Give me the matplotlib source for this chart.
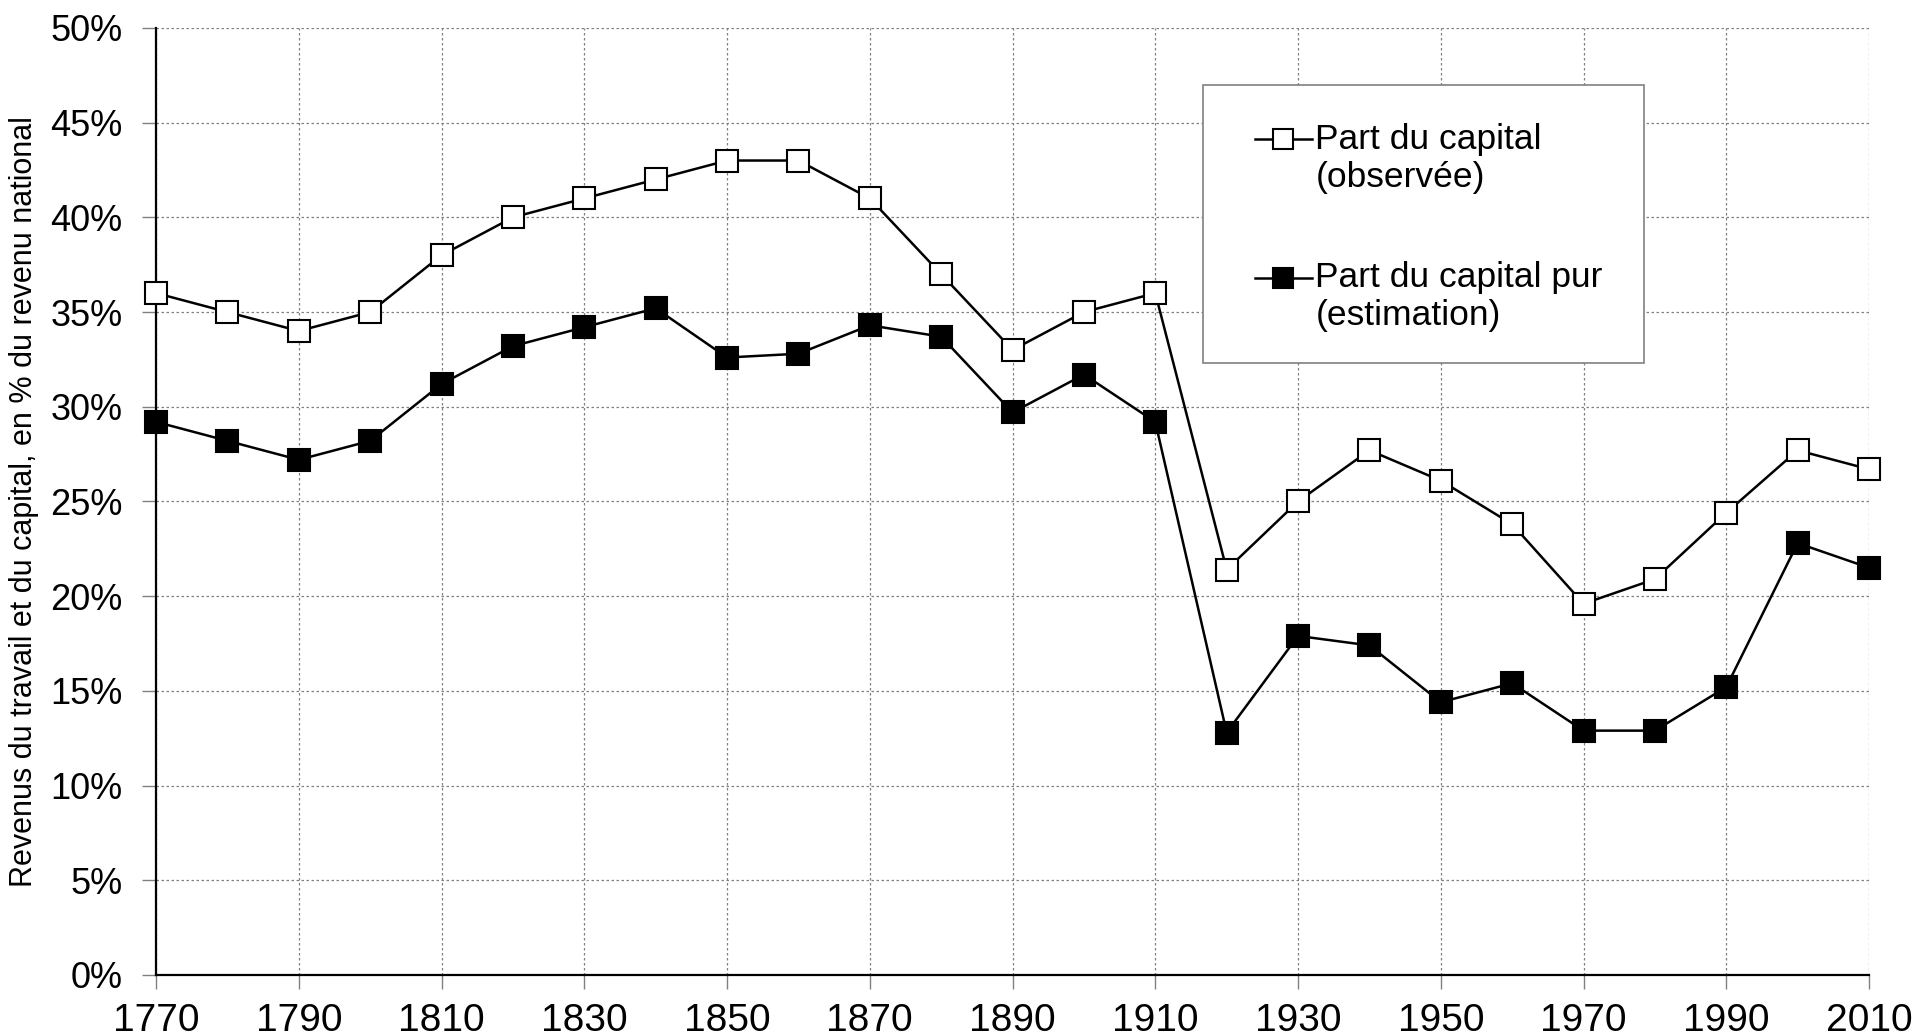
import numpy as np
import matplotlib
matplotlib.use('Agg')
import matplotlib.pyplot as plt
from matplotlib.patches import Rectangle
from matplotlib.ticker import FuncFormatter

years = [1770, 1780, 1790, 1800, 1810, 1820, 1830, 1840, 1850, 1860, 1870, 1880, 1890,
         1900, 1910, 1920, 1930, 1940, 1950, 1960, 1970, 1980, 1990, 2000, 2010]
observed = [36, 35, 34, 35, 38, 40, 41, 42, 43, 43, 41, 37, 33,
            35, 36, 21.4, 25.0, 27.7, 26.1, 23.8, 19.6, 20.9, 24.4, 27.7, 26.7]
pure = [29.2, 28.2, 27.2, 28.2, 31.2, 33.2, 34.2, 35.2, 32.6, 32.8, 34.3, 33.7, 29.7,
        31.7, 29.2, 12.8, 17.9, 17.4, 14.4, 15.4, 12.9, 12.9, 15.2, 22.8, 21.5]
labels = ['Part du capital\n(observée)', 'Part du capital pur\n(estimation)']
ylabel = 'Revenus du travail et du capital, en % du revenu national'

plt.rcParams['font.family'] = ['Liberation Sans', 'DejaVu Sans']

fig = plt.figure(figsize=(19.15, 10.35), dpi=100)
ax = fig.add_axes([0.0815, 0.058, 0.8945, 0.915])

ax.plot(years, observed, color='black', lw=1.8, marker='s', ms=16,
        mfc='white', mec='black', mew=1.5, clip_on=False, zorder=3, label=labels[0])
ax.plot(years, pure, color='black', lw=1.8, marker='s', ms=16,
        mfc='black', mec='black', mew=1.5, clip_on=False, zorder=3, label=labels[1])

ax.set_xlim(1770, 2010)
ax.set_ylim(0, 50)
ax.set_xticks(np.arange(1770, 2011, 20))
ax.set_yticks(np.arange(0, 51, 5))
ax.yaxis.set_major_formatter(FuncFormatter(lambda v, p: f'{int(v)}%'))

ax.grid(True, color='#808080', ls=(0, (2, 2)), lw=0.9)
ax.set_axisbelow(True)
for s in ['top', 'right']:
    ax.spines[s].set_visible(False)
for s in ['left', 'bottom']:
    ax.spines[s].set_linewidth(1.6)

ax.tick_params(axis='both', direction='out', length=10, width=1, color='#808080')
ax.tick_params(axis='y', labelsize=26, pad=14)
ax.tick_params(axis='x', labelsize=28, pad=10)

ax.set_ylabel(ylabel, fontsize=22, labelpad=8)

# legend box drawn by hand, legend itself without frame
ax.add_patch(Rectangle((0.611, 0.646), 0.2575, 0.294, transform=ax.transAxes,
                       facecolor='white', edgecolor='#808080', lw=1.2, zorder=4))
leg = ax.legend(loc='upper left', bbox_to_anchor=(0.6416, 0.900), fontsize=25.5,
                frameon=False, handlelength=1.6, handletextpad=0.1,
                labelspacing=1.9, borderpad=0, borderaxespad=0)
leg.set_zorder(5)
for h in leg.legend_handles:
    h.set_markersize(14)
    h.set_ydata(np.asarray(h.get_ydata()) + 14)

fig.savefig('out.png', dpi=100, facecolor='white')
